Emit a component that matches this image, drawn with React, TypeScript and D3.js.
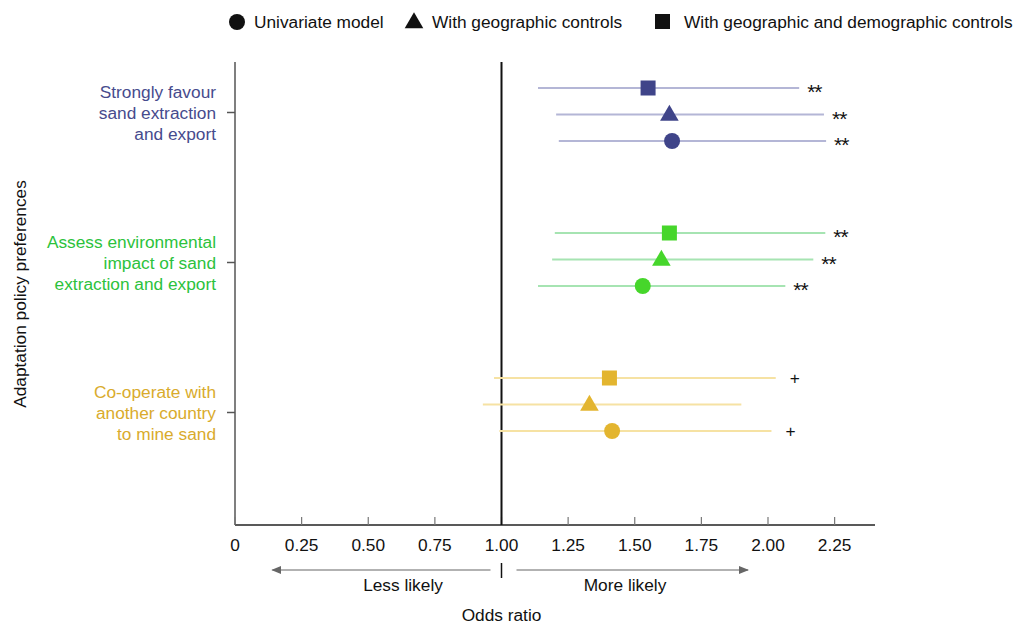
import * as React from 'react'
import * as d3 from 'd3'

// odds ratios per policy preference and model
const groups = ['purple', 'green', 'gold']
const groupLabels = [
  ['Strongly favour', 'sand extraction', 'and export'],
  ['Assess environmental', 'impact of sand', 'extraction and export'],
  ['Co-operate with', 'another country', 'to mine sand'],
]
const groupColors = ['#3f4489', '#46d62b', '#e3b52f']
const labelColors = ['#474b8d', '#2cc23c', '#d9ab2c']
const lineColors = ['#b4b6d6', '#a6e4b2', '#f6e2a3']

const models = ['square', 'triangle', 'circle']
const modelLabels = ['Univariate model', 'With geographic controls', 'With geographic and demographic controls']

// rows within each group: square, triangle, circle
const estimates = [
  [1.55, 1.63, 1.64],
  [1.63, 1.60, 1.53],
  [1.405, 1.33, 1.415],
]
const lower = [
  [1.137, 1.205, 1.215],
  [1.20, 1.19, 1.137],
  [0.972, 0.93, 0.992],
]
const upper = [
  [2.117, 2.21, 2.218],
  [2.215, 2.17, 2.065],
  [2.029, 1.90, 2.013],
]
const signif = [
  ['**', '**', '**'],
  ['**', '**', '**'],
  ['+', '', '+'],
]

const xTicks = [0, 0.25, 0.5, 0.75, 1, 1.25, 1.5, 1.75, 2, 2.25]

const W = 1013
const H = 624
const FS = 17.3
const font = '"Liberation Sans", Arial, Helvetica, sans-serif'

function Marker({shape, x, y, color}) {
  if (shape === 'circle') return <circle cx={x} cy={y} r={8} fill={color} />
  if (shape === 'square') return <rect x={x - 7.5} y={y - 7.5} width={15} height={15} fill={color} />
  const s = d3.symbol().type(d3.symbolTriangle).size(150)()
  return <path d={s} transform={`translate(${x},${y + 1})`} fill={color} />
}

export default function App() {
  const x = d3.scaleLinear().domain([0, 2.4]).range([235, 874.6])
  const yTick = d3.scalePoint().domain(groups).range([112.5, 412.5])
  const yRow = d3.scalePoint().domain(groups).range([114.5, 404.5])
  const rowOff = d3.scalePoint().domain(models).range([-26.5, 26.5])
  const yBottom = 525
  const yTop = 62

  return (
    <svg width={W} height={H} style={{position: 'absolute', left: 0, top: 0}} fontFamily={font}>
      <defs>
        <marker id="arr" viewBox="0 0 10 10" refX="9" refY="5" markerWidth="10" markerHeight="10" orient="auto-start-reverse" markerUnits="userSpaceOnUse">
          <path d="M0,1 L10,5 L0,9 Z" fill="#666" />
        </marker>
      </defs>

      {/* legend */}
      <g fontSize={FS} fill="#111">
        <circle cx={237} cy={22} r={8} fill="#111" />
        <text x={254} y={28}>{modelLabels[0]}</text>
        <path d={d3.symbol().type(d3.symbolTriangle).size(150)()} transform="translate(414,23)" fill="#111" />
        <text x={432} y={28}>{modelLabels[1]}</text>
        <rect x={655} y={14} width={15} height={15} fill="#111" />
        <text x={684} y={28}>{modelLabels[2]}</text>
      </g>

      {/* y axis */}
      <line x1={235} x2={235} y1={yTop} y2={yBottom} stroke="#555" strokeWidth={1.5} />
      {groups.map((g, i) => (
        <g key={g}>
          <line x1={227} x2={235} y1={yTick(g)} y2={yTick(g)} stroke="#555" strokeWidth={1.5} />
          <text x={216} y={yTick(g)! - 21 + 6} textAnchor="end" fontSize={FS} fill={labelColors[i]}>
            {groupLabels[i].map((l, j) => (
              <tspan key={j} x={216} dy={j === 0 ? 0 : 21}>{l}</tspan>
            ))}
          </text>
        </g>
      ))}
      <text transform={`translate(26,${294}) rotate(-90)`} textAnchor="middle" fontSize={FS} fill="#111">
        Adaptation policy preferences
      </text>

      {/* x axis */}
      <line x1={235} x2={875} y1={yBottom} y2={yBottom} stroke="#222" strokeWidth={1.5} />
      {xTicks.map(t => (
        <g key={t}>
          <line x1={x(t)} x2={x(t)} y1={yBottom} y2={yBottom - 8} stroke="#777" strokeWidth={1.2} />
          <text x={x(t)} y={yBottom + 26} textAnchor="middle" fontSize={FS} fill="#111">
            {t === 0 ? '0' : d3.format('.2f')(t)}
          </text>
        </g>
      ))}
      <line x1={x(1)} x2={x(1)} y1={yTop} y2={yBottom} stroke="#111" strokeWidth={2} />

      {/* direction arrows */}
      <line x1={x(1) - 11} x2={x(0.14)} y1={570} y2={570} stroke="#666" strokeWidth={1.2} markerEnd="url(#arr)" />
      <line x1={x(1) + 15} x2={x(1.925)} y1={570} y2={570} stroke="#666" strokeWidth={1.2} markerEnd="url(#arr)" />
      <line x1={x(1)} x2={x(1)} y1={563} y2={578} stroke="#111" strokeWidth={1.5} />
      <text x={403} y={591} textAnchor="middle" fontSize={FS} fill="#111">Less likely</text>
      <text x={625} y={591} textAnchor="middle" fontSize={FS} fill="#111">More likely</text>
      <text x={x(1)} y={621} textAnchor="middle" fontSize={FS} fill="#111">Odds ratio</text>

      {/* estimates */}
      {groups.map((g, i) => (
        <g key={g}>
          {models.map((m, j) => {
            const cy = yRow(g)! + rowOff(m)!
            const star = signif[i][j] === '**'
            return (
              <g key={m}>
                <line x1={x(lower[i][j])} x2={x(upper[i][j])} y1={cy} y2={cy} stroke={lineColors[i]} strokeWidth={2} />
                <Marker shape={m} x={x(estimates[i][j])} y={cy} color={groupColors[i]} />
                <text x={x(upper[i][j]) + (star ? 8 : 14)} y={cy + (star ? 11 : 6)} fontSize={star ? 21 : FS} fill="#111" letterSpacing={star ? -1 : 0}>
                  {signif[i][j]}
                </text>
              </g>
            )
          })}
        </g>
      ))}
    </svg>
  )
}
